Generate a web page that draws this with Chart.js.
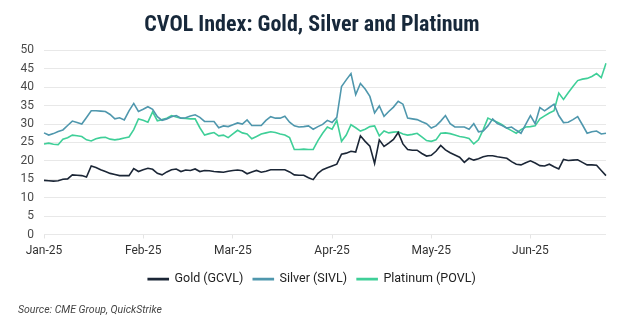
<!DOCTYPE html>
<html>
<head>
<meta charset="utf-8">
<script src="https://cdn.jsdelivr.net/npm/chart.js@4"></script>
<style>
  html, body { margin: 0; padding: 0; background: #fff; }
  #wrap { width: 624px; height: 326px; }
</style>
</head>
<body>
<div id="wrap"><canvas id="c" width="624" height="326"></canvas></div>
<script>
// ---- Data ----
const monthTicks = ['Jan-25', 'Feb-25', 'Mar-25', 'Apr-25', 'May-25', 'Jun-25'];
const holidays = ['2025-01-20', '2025-02-17', '2025-04-18', '2025-05-26', '2025-06-19'];
const firstDay = '2025-01-02';
const nPoints = 120;

const gold = [
  14.7, 14.6, 14.5, 14.6, 15.0, 15.1, 16.2, 16.1, 16.0, 15.6,
  18.6, 18.2, 17.6, 17.1, 16.6, 16.3, 16.0, 16.0, 16.0, 17.9,
  17.1, 17.6, 18.0, 17.7, 16.6, 16.2, 17.0, 17.6, 17.8, 17.1,
  17.5, 17.4, 17.8, 17.1, 17.4, 17.3, 17.1, 17.0, 16.9, 17.2,
  17.4, 17.5, 17.3, 16.5, 17.0, 17.4, 16.9, 17.2, 17.6, 17.6,
  17.6, 17.6, 17.0, 16.2, 16.1, 16.1, 15.4, 14.9, 16.6, 17.6,
  18.1, 18.6, 19.1, 21.8, 22.1, 22.6, 22.4, 26.8, 25.3, 24.0,
  19.3, 25.7, 23.9, 24.8, 25.8, 27.7, 24.6, 23.1, 22.9, 22.9,
  22.0, 21.3, 21.5, 22.6, 24.2, 23.0, 22.2, 21.6, 21.0, 19.6,
  20.7, 20.2, 20.6, 21.1, 21.4, 21.4, 21.1, 20.9, 20.7, 19.8,
  19.1, 18.9, 19.5, 20.0, 19.4, 18.7, 18.6, 19.1, 18.4, 17.8,
  20.4, 20.1, 20.2, 20.3, 19.6, 18.9, 18.9, 18.8, 17.4, 16.0
];
const silver = [
  27.6, 27.0, 27.4, 28.0, 28.4, 29.6, 30.8, 30.4, 30.0, 31.8,
  33.6, 33.6, 33.5, 33.4, 32.6, 31.4, 31.7, 31.1, 33.6, 35.6,
  33.4, 34.0, 34.7, 34.0, 32.0, 31.0, 31.4, 32.0, 32.3, 31.6,
  31.7, 32.2, 32.5, 31.8, 30.7, 30.7, 30.7, 29.0, 29.5, 29.3,
  29.8, 30.3, 30.0, 31.1, 29.6, 29.6, 29.6, 31.0, 32.0, 31.6,
  31.6, 32.1, 30.5, 29.5, 29.2, 29.3, 29.5, 28.6, 29.3, 29.9,
  31.0, 30.4, 31.8, 40.2, 42.0, 43.7, 38.0, 41.0, 39.5, 37.5,
  33.0, 34.9, 32.1, 33.4, 34.6, 36.2, 35.4, 31.6, 31.4, 31.2,
  30.6, 30.1, 28.9, 29.5, 30.8, 32.3, 30.1, 29.2, 29.2, 29.2,
  28.6, 30.1, 27.9, 28.1, 29.5, 31.4, 30.1, 29.6, 28.9, 29.2,
  28.3, 27.5, 29.9, 32.3, 30.1, 34.5, 33.6, 34.5, 35.4, 32.3,
  30.4, 30.5, 31.2, 32.0, 29.8, 27.5, 27.9, 28.1, 27.3, 27.5
];
const platinum = [
  24.6, 24.8, 24.5, 24.4, 25.9, 26.3, 27.0, 26.8, 26.6, 25.7,
  25.4, 26.0, 26.3, 26.4, 25.9, 25.7, 25.9, 26.2, 26.5, 28.5,
  31.4, 31.0, 30.5, 33.3, 30.9, 31.2, 31.6, 32.3, 31.9, 31.6,
  31.5, 31.4, 31.4, 29.0, 27.0, 27.4, 27.7, 26.8, 27.0, 26.3,
  27.3, 28.3, 27.6, 27.3, 26.0, 26.6, 27.3, 27.6, 27.9, 27.7,
  27.3, 27.0, 26.3, 23.1, 23.1, 23.2, 23.1, 23.1, 25.5, 27.5,
  29.2, 28.6, 31.0, 25.3, 27.0, 29.8, 29.0, 28.1, 28.6, 29.3,
  29.5, 26.8, 28.1, 27.6, 27.8, 27.9, 27.3, 27.0, 27.2, 27.5,
  26.5, 25.5, 25.3, 25.7, 27.5, 27.6, 27.4, 27.0, 26.6, 26.4,
  26.1, 24.6, 25.7, 28.5, 31.6, 31.0, 30.5, 29.8, 28.9, 28.2,
  27.5, 28.5, 29.2, 29.3, 29.5, 31.4, 32.2, 33.0, 33.6, 38.4,
  36.7, 38.5, 40.2, 41.8, 42.2, 42.4, 42.9, 43.7, 42.6, 46.5
];
const seriesNames = ['Gold (GCVL)', 'Silver (SIVL)', 'Platinum (POVL)'];

// ---- Categories: trading days from firstDay ----
const categories = [];
(function () {
  const d = new Date(firstDay + 'T00:00:00Z');
  while (categories.length < nPoints) {
    const iso = d.toISOString().slice(0, 10);
    const wd = d.getUTCDay();
    if (wd !== 0 && wd !== 6 && holidays.indexOf(iso) < 0) categories.push(iso);
    d.setUTCDate(d.getUTCDate() + 1);
  }
})();

const colors = ['#1b2636', '#4f97ad', '#3fcf98'];
const FONT = "'Roboto', 'Lato', sans-serif";

new Chart(document.getElementById('c'), {
  type: 'line',
  data: {
    labels: categories,
    datasets: [gold, silver, platinum].map((vals, k) => ({
      label: seriesNames[k],
      data: vals,
      borderColor: colors[k],
      backgroundColor: colors[k],
      borderWidth: 1.6,
      pointRadius: 0,
      tension: 0,
      fill: false
    }))
  },
  options: {
    responsive: false,
    animation: false,
    devicePixelRatio: 1,
    layout: { padding: { left: 18, right: 18, top: 10, bottom: 9 } },
    plugins: {
      title: {
        display: true,
        text: 'CVOL Index: Gold, Silver and Platinum',
        color: '#17283a',
        font: { family: "'Liberation Sans Narrow', 'Roboto Condensed', 'Roboto', sans-serif", size: 22, weight: 'bold' },
        padding: { top: 2, bottom: 12 }
      },
      legend: {
        display: true,
        position: 'bottom',
        labels: {
          color: '#222',
          font: { family: FONT, size: 12.5 },
          boxWidth: 20,
          boxHeight: 1,
          padding: 10
        }
      },
      subtitle: {
        display: true,
        position: 'bottom',
        align: 'start',
        text: 'Source: CME Group, QuickStrike',
        color: '#444',
        font: { family: FONT, size: 10.5, style: 'italic' },
        padding: { top: 9, bottom: 0 }
      },
      tooltip: { enabled: false }
    },
    scales: {
      x: {
        type: 'category',
        border: { display: false },
        grid: { drawOnChartArea: false, drawTicks: true, tickLength: 4, color: '#e4e4e4' },
        ticks: {
          autoSkip: false,
          maxRotation: 0,
          color: '#333',
          font: { family: FONT, size: 12 },
          padding: 5,
          callback: function (value, index) {
            const cur = categories[index];
            const prev = index > 0 ? categories[index - 1] : null;
            if (prev === null || cur.slice(5, 7) !== prev.slice(5, 7)) {
              return monthTicks[parseInt(cur.slice(5, 7), 10) - 1];
            }
            return null;
          }
        }
      },
      y: {
        min: 0,
        max: 50,
        border: { display: false },
        grid: { color: '#e8e8e8', drawTicks: false, lineWidth: 1 },
        afterFit: function (scale) { scale.width = 26; },
        ticks: {
          stepSize: 5,
          color: '#4a4a4a',
          font: { family: FONT, size: 12 },
          padding: 10
        }
      }
    }
  }
});
</script>
</body>
</html>
